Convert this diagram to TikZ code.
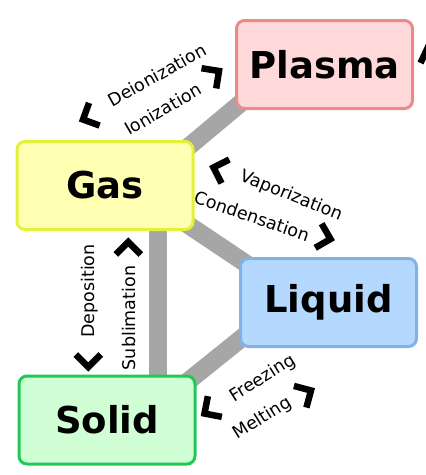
\documentclass[tikz,border=0pt]{standalone}
\usepackage{fontspec}
\setmainfont{DejaVu Sans}
\usetikzlibrary{backgrounds}

\definecolor{plasmafill}{HTML}{FFD9D9}
\definecolor{plasmaline}{HTML}{EB8A8A}
\definecolor{gasfill}{HTML}{FFFFB3}
\definecolor{gasline}{HTML}{E2F23A}
\definecolor{liquidfill}{HTML}{B5D8FF}
\definecolor{liquidline}{HTML}{82B1E6}
\definecolor{solidfill}{HTML}{D0FFD6}
\definecolor{solidline}{HTML}{1FC955}

\tikzset{
	phase/.style={draw, line width=3pt, rounded corners=8pt, minimum width=176pt, minimum height=88pt, inner sep=0pt, font=\bfseries\fontsize{37}{40}\selectfont},
	bar/.style={line width=18pt, draw=black!35},
	change/.style={inner sep=0pt, font=\fontsize{17.5}{20}\selectfont},
	chevron/.pic={\draw[line width=6.5pt, miter limit=10] (-12.5,-12.5) -- (0,0) -- (-12.5,12.5);}
}

\begin{document}
\begin{tikzpicture}[x=1pt, y=-1pt]
	\useasboundingbox (0,0) rectangle (426,475);
	
	\node[phase, fill=plasmafill, draw=plasmaline] (plasma) at (324.5,64.5) {Plasma};
	\node[phase, fill=gasfill, draw=gasline] (gas) at (105,185.5) {Gas};
	\node[phase, fill=liquidfill, draw=liquidline] (liquid) at (328.5,302.5) {Liquid};
	\node[phase, fill=solidfill, draw=solidline] (solid) at (107,420) {Solid};
	
	\begin{scope}[on background layer]
	\draw[bar] ([shift={(54,-14)}]gas.center) -- ([shift={(-58,17)}]plasma.center);
	\draw[bar] ([shift={(58,22.5)}]gas.center) -- ([shift={(-65.5,-27.5)}]liquid.center);
	\draw[bar] ([shift={(-75.5,26.5)}]liquid.center) -- ([shift={(76,-34.7)}]solid.center);
	\draw[bar] ([shift={(53,0)}]gas.center) -- ([shift={(51,0)}]solid.center);
	\end{scope}
	
	% gas <-> plasma
	\node[change, rotate=29] (deion) at (157,75) {Deionization};
	\node[change, rotate=30] (ion) at (163,109) {Ionization};
	\pic[rotate=205] at (83,119.5) {chevron};
	\pic[rotate=36] at (219,71) {chevron};
	
	% gas <-> liquid
	\node[change, rotate=-22] (vap) at (291,196) {Vaporization};
	\node[change, rotate=-19] (cond) at (252,216) {Condensation};
	\pic[rotate=162] at (213.5,167.5) {chevron};
	\pic[rotate=-15] at (330.5,239) {chevron};
	
	% gas <-> solid
	\node[change, rotate=90] (depo) at (90,291) {Deposition};
	\node[change, rotate=90] (subl) at (129,318) {Sublimation};
	\pic[rotate=-90] at (88.3,367) {chevron};
	\pic[rotate=90] at (128.3,242) {chevron};
	
	% liquid <-> solid
	\node[change, rotate=32] (freez) at (263,378.5) {Freezing};
	\node[change, rotate=32] (melt) at (262.5,418.5) {Melting};
	\pic[rotate=214] at (204.5,413.5) {chevron};
	\pic[rotate=30] at (311,390.5) {chevron};
	
	\pic[rotate=110] at (428,47) {chevron};
\end{tikzpicture}
\end{document}
